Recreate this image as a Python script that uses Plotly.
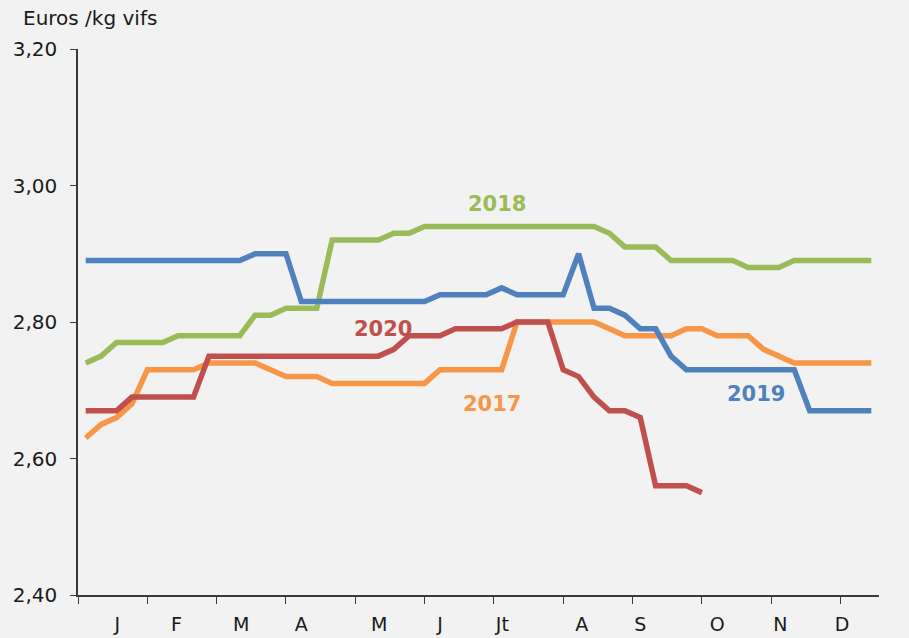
import plotly.graph_objects as go

weeks = list(range(1, 53))

y2017 = [2.63, 2.65, 2.66, 2.68, 2.73, 2.73, 2.73, 2.73, 2.74, 2.74,
         2.74, 2.74, 2.73, 2.72, 2.72, 2.72, 2.71, 2.71, 2.71, 2.71,
         2.71, 2.71, 2.71, 2.73, 2.73, 2.73, 2.73, 2.73, 2.80, 2.80,
         2.80, 2.80, 2.80, 2.80, 2.79, 2.78, 2.78, 2.78, 2.78, 2.79,
         2.79, 2.78, 2.78, 2.78, 2.76, 2.75, 2.74, 2.74, 2.74, 2.74,
         2.74, 2.74]

y2018 = [2.74, 2.75, 2.77, 2.77, 2.77, 2.77, 2.78, 2.78, 2.78, 2.78,
         2.78, 2.81, 2.81, 2.82, 2.82, 2.82, 2.92, 2.92, 2.92, 2.92,
         2.93, 2.93, 2.94, 2.94, 2.94, 2.94, 2.94, 2.94, 2.94, 2.94,
         2.94, 2.94, 2.94, 2.94, 2.93, 2.91, 2.91, 2.91, 2.89, 2.89,
         2.89, 2.89, 2.89, 2.88, 2.88, 2.88, 2.89, 2.89, 2.89, 2.89,
         2.89, 2.89]

y2019 = [2.89, 2.89, 2.89, 2.89, 2.89, 2.89, 2.89, 2.89, 2.89, 2.89,
         2.89, 2.90, 2.90, 2.90, 2.83, 2.83, 2.83, 2.83, 2.83, 2.83,
         2.83, 2.83, 2.83, 2.84, 2.84, 2.84, 2.84, 2.85, 2.84, 2.84,
         2.84, 2.84, 2.90, 2.82, 2.82, 2.81, 2.79, 2.79, 2.75, 2.73,
         2.73, 2.73, 2.73, 2.73, 2.73, 2.73, 2.73, 2.67, 2.67, 2.67,
         2.67, 2.67]

y2020 = [2.67, 2.67, 2.67, 2.69, 2.69, 2.69, 2.69, 2.69, 2.75, 2.75,
         2.75, 2.75, 2.75, 2.75, 2.75, 2.75, 2.75, 2.75, 2.75, 2.75,
         2.76, 2.78, 2.78, 2.78, 2.79, 2.79, 2.79, 2.79, 2.80, 2.80,
         2.80, 2.73, 2.72, 2.69, 2.67, 2.67, 2.66, 2.56, 2.56, 2.56,
         2.55]

month_labels = ["J", "F", "M", "A", "M", "J", "Jt", "A", "S", "O", "N", "D"]
month_label_pos = [3.05, 6.9, 11.1, 15.0, 20.05, 24.0, 28.05, 33.2, 37.0, 42.0, 46.1, 50.1]

series = [
    ("2017", y2017, "#f79646", 27.35, 2.680),
    ("2018", y2018, "#9bbb59", 27.7, 2.973),
    ("2019", y2019, "#4f81bd", 44.5, 2.695),
    ("2020", y2020, "#c0504d", 20.27, 2.790),
]

FONT = "DejaVu Sans"

fig = go.Figure()
for name, vals, color, lx, ly in series:
    fig.add_trace(go.Scatter(
        x=weeks[:len(vals)], y=vals, mode="lines", name=name,
        line=dict(color=color, width=5.5), showlegend=False, hoverinfo="x+y",
    ))

for name, vals, color, lx, ly in series:
    fig.add_annotation(x=lx, y=ly, text="<b>%s</b>" % name, showarrow=False,
                       font=dict(family=FONT, size=21, color=color),
                       xanchor="center", yanchor="middle")

fig.add_annotation(x=0, y=1, xref="paper", yref="paper", xshift=-57, yshift=17,
                   text="Euros /kg vifs", showarrow=False, xanchor="left", yanchor="bottom",
                   font=dict(family=FONT, size=20, color="#1a1a1a"))

fig.update_layout(
    width=909, height=638,
    margin=dict(l=78, r=30, t=49, b=43),
    paper_bgcolor="#f2f2f2", plot_bgcolor="#f2f2f2",
    separators=",.",
    font=dict(family=FONT, size=19, color="#1a1a1a"),
    xaxis=dict(
        range=[0.5, 52.5], showgrid=False, zeroline=False, automargin=False,
        showline=True, linecolor="#3a3a3a", linewidth=1.5,
        tickmode="array", tickvals=month_label_pos, ticktext=month_labels,
        ticks="", ticklabelstandoff=11,
        minor=dict(tickmode="linear", tick0=0.5, dtick=4.5, ticks="outside",
                   ticklen=7, tickcolor="#3a3a3a", tickwidth=1.2, showgrid=False),
        fixedrange=True,
    ),
    yaxis=dict(
        range=[2.40, 3.20], showgrid=False, zeroline=False, automargin=False,
        showline=True, linecolor="#3a3a3a", linewidth=1.5,
        tickmode="array", tickvals=[2.40, 2.60, 2.80, 3.00, 3.20],
        tickformat=".2f", ticks="outside", ticklen=6, tickcolor="#3a3a3a",
        tickwidth=1.2, ticklabelstandoff=9, tickfont=dict(size=20),
        fixedrange=True,
    ),
)

fig.write_html(
    "out.html",
    config={"displayModeBar": False},
    post_script="document.body.style.margin='0';document.body.style.background='#f2f2f2';",
)
